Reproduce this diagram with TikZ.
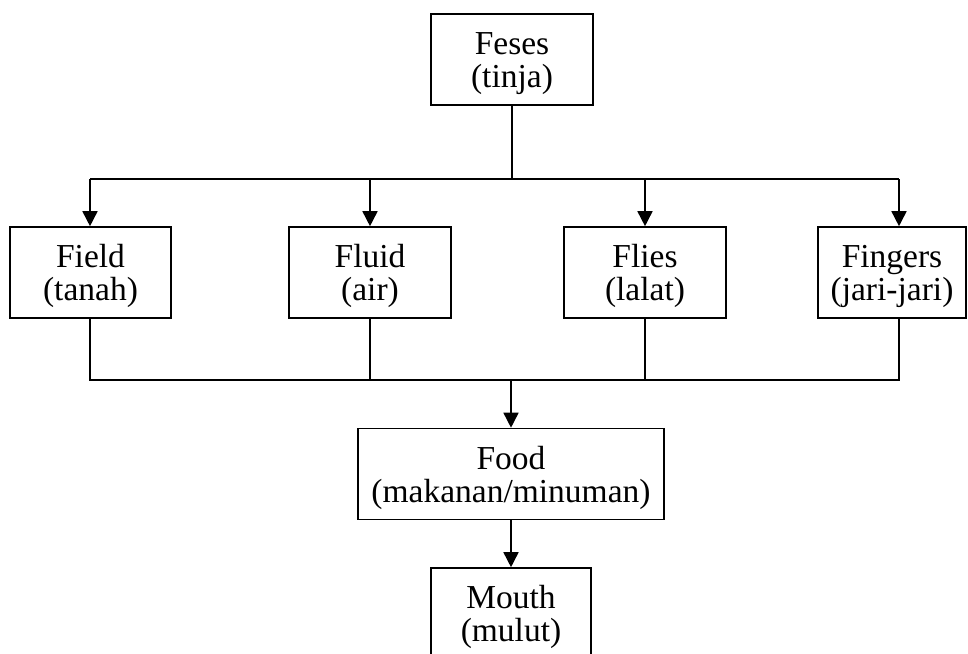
\documentclass[tikz,border=0pt]{standalone}
\usepackage{fontspec}
\setmainfont{Liberation Serif}
\usetikzlibrary{arrows.meta}
\newcommand\tallstrut{\rule{0pt}{31pt}}
\tikzset{
  box/.style={draw, line width=1.6pt, minimum height=91pt, inner sep=0pt, align=center,
    font=\fontsize{33.5}{33}\selectfont},
  conn/.style={line width=1.6pt},
  arr/.style={conn, -{Triangle[length=15pt,width=15pt]}}
}
\begin{document}
\begin{tikzpicture}[x=1pt,y=1pt]
\useasboundingbox (0,0) rectangle (968,-653);
\clip (0,0) rectangle (968,-653);
\node[box, minimum width=162pt] (feses) at (512,-59.5) {\tallstrut Feses\\(tinja)};
\node[box, minimum width=161pt] (field) at (90.5,-272.5) {\tallstrut Field\\(tanah)};
\node[box, minimum width=162pt] (fluid) at (370,-272.5) {\tallstrut Fluid\\(air)};
\node[box, minimum width=162pt] (flies) at (645,-272.5) {\tallstrut Flies\\(lalat)};
\node[box, minimum width=148pt] (fingers) at (892,-272.5) {\tallstrut Fingers\\(jari-jari)};
\node[box, minimum width=306pt] (food) at (511,-474) {\tallstrut Food\\(makanan/minuman)};
\node[box, minimum width=160pt] (mouth) at (511,-613.5) {\tallstrut Mouth\\(mulut)};
\coordinate (tl) at (90,-179);
\coordinate (tr) at (899,-179);
\coordinate (bl) at (90,-380);
\coordinate (br) at (899,-380);
\draw[conn] (feses.south) -- (feses.south |- tl);
\draw[conn] (tl) -- (tr);
\draw[arr] (tl) -- (tl |- field.north);
\draw[arr] (fluid.north |- tl) -- (fluid.north);
\draw[arr] (flies.north |- tl) -- (flies.north);
\draw[arr] (tr) -- (tr |- fingers.north);
\draw[conn] (tl |- field.south) -- (bl) -- (br) -- (br |- fingers.south);
\draw[conn] (fluid.south) -- (fluid.south |- bl);
\draw[conn] (flies.south) -- (flies.south |- bl);
\draw[arr] (food.north |- bl) -- (food.north);
\draw[arr] (food.south) -- (mouth.north);
\end{tikzpicture}
\end{document}
